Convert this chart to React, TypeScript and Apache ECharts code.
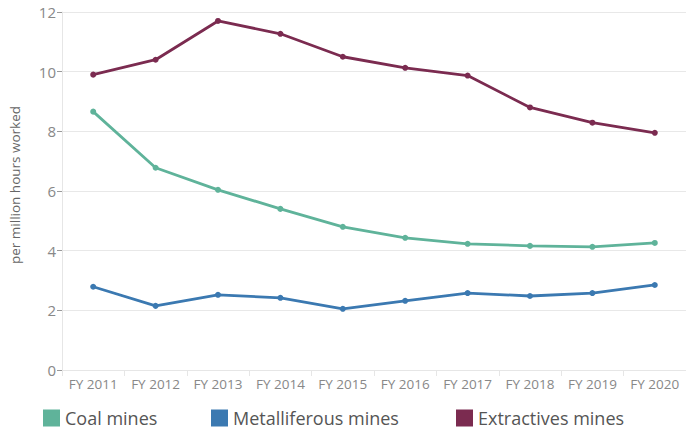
import React, { useEffect, useRef } from "react";
import * as echarts from "echarts";

const categories = ["FY 2011", "FY 2012", "FY 2013", "FY 2014", "FY 2015", "FY 2016", "FY 2017", "FY 2018", "FY 2019", "FY 2020"];
const coal = [8.66, 6.78, 6.04, 5.4, 4.8, 4.43, 4.23, 4.16, 4.13, 4.26];
const metalliferous = [2.79, 2.15, 2.52, 2.42, 2.05, 2.32, 2.58, 2.48, 2.58, 2.85];
const extractives = [9.9, 10.4, 11.7, 11.27, 10.5, 10.13, 9.87, 8.8, 8.29, 7.95];
const seriesNames = ["Coal mines", "Metalliferous mines", "Extractives mines"];
const colors = ["#5fb39a", "#3b79b1", "#7b2b50"];
const legendLefts = [43, 211, 456];

const FONT = "Open Sans";

export default function App() {
  const ref = useRef<HTMLDivElement>(null);
  useEffect(() => {
    const chart = echarts.init(ref.current!, null, { renderer: "svg" });
    const mk = (name: string, data: number[], color: string) => ({
      name,
      type: "line",
      data,
      color,
      symbol: "circle",
      symbolSize: 6,
      lineStyle: { width: 2.8, color },
      itemStyle: { color },
    });
    chart.setOption({
      animation: false,
      textStyle: { fontFamily: FONT },
      grid: { left: 55, right: -2, top: 12, bottom: 60, containLabel: false },
      legend: seriesNames.map((n, i) => ({
        left: legendLefts[i],
        top: 408,
        padding: 0,
        icon: "rect",
        itemWidth: 17,
        itemHeight: 17,
        itemGap: 6,
        textStyle: { fontSize: 18, lineHeight: 20, color: "#555", fontFamily: FONT },
        data: [n],
      })),
      xAxis: {
        type: "category",
        data: categories,
        boundaryGap: true,
        axisLine: { lineStyle: { color: "#e6e6e6" } },
        axisTick: { show: true, interval: 0, length: 6, lineStyle: { color: "#e6e6e6" } },
        axisLabel: { color: "#888", fontSize: 13.5, margin: 7, interval: 0 },
      },
      yAxis: {
        type: "value",
        min: 0,
        max: 12,
        interval: 2,
        name: "per million hours worked",
        nameLocation: "middle",
        nameGap: 40,
        nameTextStyle: { color: "#666", fontSize: 13.5, padding: [0, 0, 0, 12] },
        axisLine: { show: true, lineStyle: { color: "#e6e6e6" } },
        axisTick: { show: true, length: 5, lineStyle: { color: "#999" } },
        axisLabel: { color: "#888", fontSize: 15, margin: 6 },
        splitLine: { lineStyle: { color: "#e8e8e8" } },
      },
      series: [
        mk(seriesNames[0], coal, colors[0]),
        mk(seriesNames[1], metalliferous, colors[1]),
        mk(seriesNames[2], extractives, colors[2]),
      ],
    });
    return () => chart.dispose();
  }, []);
  return <div ref={ref} style={{ width: 686, height: 430, position: "absolute", left: 0, top: 0 }} />;
}
